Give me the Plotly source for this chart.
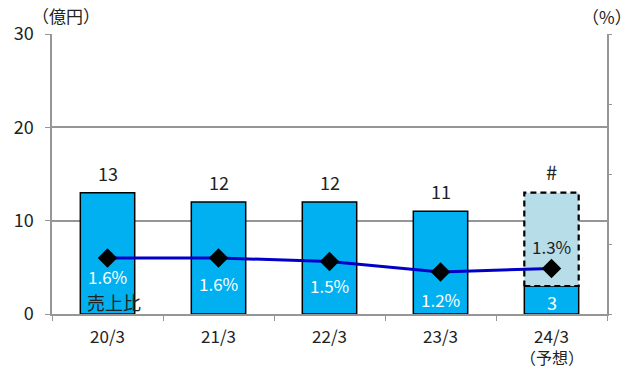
import plotly.graph_objects as go

categories = ["20/3", "21/3", "22/3", "23/3", "24/3"]
tick_labels = ["20/3", "21/3", "22/3", "23/3", "24/3"]
forecast_note = "（予想）"
sales = [13, 12, 12, 11, 3]          # 億円 (solid bars)
forecast_total = [None, None, None, None, 13]  # dashed forecast box top
sales_labels = ["13", "12", "12", "11", "#"]
ratio = [1.6, 1.6, 1.5, 1.2, 1.3]    # % 売上比
ratio_labels = ["1.6%", "1.6%", "1.5%", "1.2%", "1.3%"]

FONT = "Noto Sans CJK JP"
BAR_W = 0.49
BLUE = "#00b0f0"
LIGHT = "#b7dde8"
GRID = "#969696"
TXT = "#222"

fig = go.Figure()

fig.add_trace(go.Bar(
    x=categories, y=sales, width=BAR_W, marker=dict(color=BLUE, line=dict(color="black", width=1.5)),
    hoverinfo="skip", showlegend=False))

# forecast box (fill)
fx, fbase, fval = [], [], []
for i, c in enumerate(categories):
    if forecast_total[i] is not None:
        fx.append(c); fbase.append(sales[i]); fval.append(forecast_total[i] - sales[i])
fig.add_trace(go.Bar(x=fx, y=fval, base=fbase, width=BAR_W,
                     marker=dict(color=LIGHT, line=dict(width=0)), hoverinfo="skip", showlegend=False))

# dashed outline of forecast box (numeric x via overlay axis)
for i, c in enumerate(categories):
    if forecast_total[i] is not None:
        x0, x1 = i - BAR_W / 2, i + BAR_W / 2
        y0, y1 = sales[i], forecast_total[i]
        fig.add_trace(go.Scatter(x=[x0, x1, x1, x0, x0], y=[y0, y0, y1, y1, y0], xaxis="x3",
                                 mode="lines", line=dict(color="black", width=2.2, dash="6px,4px"),
                                 hoverinfo="skip", showlegend=False))

fig.add_trace(go.Scatter(
    x=categories, y=ratio, yaxis="y2", mode="lines+markers",
    line=dict(color="#0000c8", width=3),
    marker=dict(symbol="diamond", size=15, color="black"),
    hoverinfo="skip", showlegend=False))

annotations = []
for i, c in enumerate(categories):
    top = forecast_total[i] if forecast_total[i] is not None else sales[i]
    fs = 20 if sales_labels[i] == "#" else 18
    annotations.append(dict(x=c, y=top, xref="x", yref="y", text=sales_labels[i], showarrow=False,
                            yanchor="bottom", yshift=5, font=dict(family=FONT, size=fs, color=TXT)))
# value inside forecast solid bar
annotations.append(dict(x=categories[4], y=sales[4] / 2, xref="x", yref="y", text=str(sales[4]),
                        showarrow=False, yshift=-2, font=dict(family=FONT, size=18, color="white")))
ratio_shift = [-18, -25, -24, -27, 22]
for i, c in enumerate(categories):
    col = "white" if i < 4 else TXT
    annotations.append(dict(x=c, y=ratio[i], xref="x", yref="y2", text=ratio_labels[i], showarrow=False,
                            yshift=ratio_shift[i], font=dict(family=FONT, size=17, color=col)))
annotations.append(dict(x=categories[0], y=0, xref="x", yref="y", text="売上比", showarrow=False,
                        yanchor="middle", yshift=12, xshift=6, font=dict(family=FONT, size=18, color=TXT)))
annotations.append(dict(x=0, y=1, xref="paper", yref="paper", text="（億円）", showarrow=False,
                        xanchor="left", yanchor="bottom", xshift=-22, yshift=4,
                        font=dict(family=FONT, size=17, color=TXT)))
annotations.append(dict(x=1, y=1, xref="paper", yref="paper", text="（%）", showarrow=False,
                        xanchor="center", yanchor="bottom", xshift=0, yshift=3,
                        font=dict(family=FONT, size=17, color=TXT)))
annotations.append(dict(x=categories[4], y=0, xref="x", yref="paper", text=forecast_note, showarrow=False,
                        yanchor="middle", yshift=-43, font=dict(family=FONT, size=16, color=TXT)))

fig.update_layout(
    width=639, height=374, margin=dict(l=52, r=32, t=34, b=60, autoexpand=False),
    paper_bgcolor="white", plot_bgcolor="white", barmode="overlay",
    font=dict(family=FONT, size=18, color=TXT),
    xaxis=dict(type="category", categoryorder="array", categoryarray=categories,
               tickvals=categories, ticktext=tick_labels, range=[-0.5, 4.5],
               showline=True, linecolor=GRID, linewidth=1.5, ticks="outside", tickson="boundaries",
               ticklen=5, tickcolor=GRID, showgrid=False, tickfont=dict(size=17),
               ticklabelstandoff=7, automargin=False),
    xaxis3=dict(overlaying="x", range=[-0.5, 4.5], visible=False),
    yaxis=dict(range=[0, 30], dtick=10, showline=True, linecolor=GRID, linewidth=1.5,
               ticks="outside", ticklen=5, tickcolor=GRID, gridcolor=GRID, gridwidth=1.5,
               zeroline=False, tickfont=dict(size=18), ticklabelstandoff=8, automargin=False),
    yaxis2=dict(overlaying="y", side="right", range=[0, 8], dtick=2, showticklabels=False,
                showline=True, linecolor=GRID, linewidth=1.5, ticks="outside", ticklen=3,
                tickcolor=GRID, showgrid=False, zeroline=False, automargin=False),
    annotations=annotations,
)

fig.write_html("out.html")
